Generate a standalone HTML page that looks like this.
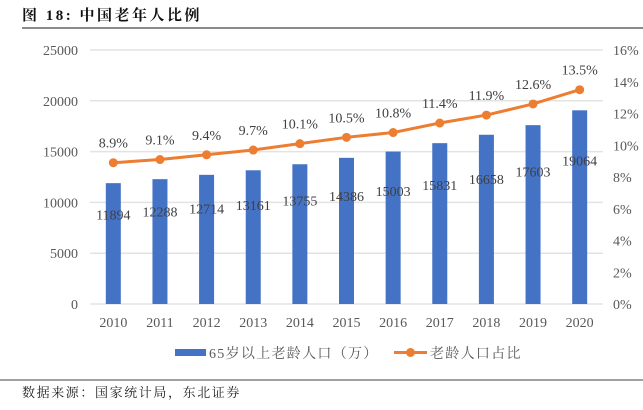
<!DOCTYPE html>
<html><head><meta charset="utf-8"><style>
body{margin:0;background:#fff;width:643px;height:405px;overflow:hidden;font-family:"Liberation Serif","Noto Serif CJK SC",serif}
</style></head><body>
<svg id="c" width="643" height="405" xmlns="http://www.w3.org/2000/svg">
<text x="22" y="20" font-size="15" font-weight="bold" fill="#111" letter-spacing="2.5" font-family="'Liberation Serif','Noto Serif CJK SC',serif">图 18:  中国老年人比例</text>
<line x1="22" y1="28" x2="643" y2="28" stroke="#444" stroke-width="1.2"/>
<line x1="0" y1="380" x2="643" y2="380" stroke="#444" stroke-width="1"/>
<text x="22" y="397" font-size="13" fill="#222" letter-spacing="1.6" font-family="'Liberation Serif','Noto Serif CJK SC',serif">数据来源：国家统计局，东北证券</text>
<g id="plot"></g>
</svg>
<script>
const years=["2010","2011","2012","2013","2014","2015","2016","2017","2018","2019","2020"];
const population=[11894,12288,12714,13161,13755,14386,15003,15831,16658,17603,19064];
const ratio=[8.9,9.1,9.4,9.7,10.1,10.5,10.8,11.4,11.9,12.6,13.5];
const leftTicks=[0,5000,10000,15000,20000,25000];
const rightTicks=[0,2,4,6,8,10,12,14,16];
const NS="http://www.w3.org/2000/svg";
const g=document.getElementById('plot');
const x0=90,x1=603,yB=304,yT=50;
const yL=v=>yB-(v/25000)*(yB-yT);
const yR=v=>yB-(v/16)*(yB-yT);
const step=(x1-x0)/years.length;
const xC=i=>x0+step*(i+0.5);
function el(t,a,txt){const e=document.createElementNS(NS,t);for(const k in a)e.setAttribute(k,a[k]);if(txt!==undefined)e.textContent=txt;g.appendChild(e);return e;}
leftTicks.forEach(v=>{
 const l=el('line',{x1:x0,x2:x1,y1:yL(v),y2:yL(v),stroke:'#e3e3e3','stroke-width':1.5});
 
 
 const t=el('text',{x:78,y:yL(v)+5,'text-anchor':'end','font-size':14,fill:'#595959'},String(v));
 
 
});
rightTicks.forEach(v=>{
 const t=el('text',{x:613,y:yR(v)+5,'font-size':14,fill:'#595959'},v+'%');
 
 
});
years.forEach((y,i)=>{
 const b=el('rect',{x:xC(i)-7.5,y:yL(population[i]),width:15,height:yB-yL(population[i]),fill:'#4472c4'});
 
 
 const t=el('text',{x:xC(i),y:yB-(yB-yL(population[i]))*0.74+5,'text-anchor':'middle','font-size':14,fill:'#404040'},String(population[i]));
 
 
 const xl=el('text',{x:xC(i),y:327,'text-anchor':'middle','font-size':14,fill:'#595959'},y);
 
 
});
const pts=ratio.map((v,i)=>xC(i)+','+yR(v)).join(' ');
const pl=el('polyline',{points:pts,fill:'none',stroke:'#ed7d31','stroke-width':3});


ratio.forEach((v,i)=>{
 const c=el('circle',{cx:xC(i),cy:yR(v),r:4.5,fill:'#ed7d31'});
 
 
 const t=el('text',{x:xC(i),y:yR(v)-15,'text-anchor':'middle','font-size':14,fill:'#404040'},v.toFixed(1)+'%');
 
 
});
const lb=el('rect',{x:175,y:349,width:31,height:7,fill:'#4472c4'});


const lt=el('text',{x:209,y:358,'font-size':14,fill:'#595959','letter-spacing':1.3},'65岁以上老龄人口（万）');


const ll=el('line',{x1:394,x2:427,y1:352.5,y2:352.5,stroke:'#ed7d31','stroke-width':3});


const lc=el('circle',{cx:410.5,cy:352.5,r:4.5,fill:'#ed7d31'});


const lt2=el('text',{x:430,y:358,'font-size':14,fill:'#595959','letter-spacing':1.3},'老龄人口占比');


</script>
</body></html>
